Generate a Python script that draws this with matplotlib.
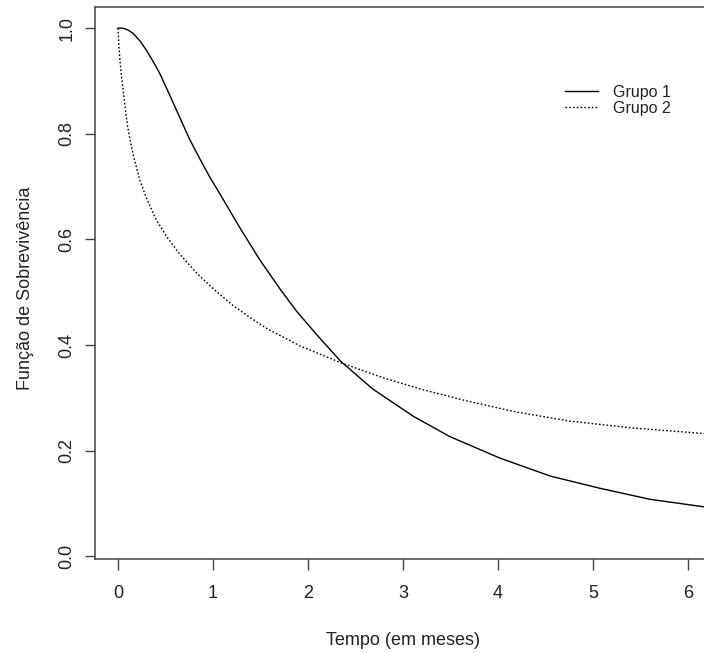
import numpy as np
import matplotlib
matplotlib.use("Agg")
import matplotlib.pyplot as plt

plt.rcParams['font.family'] = ['Liberation Sans', 'DejaVu Sans']

# Curvas de sobrevivência
tempo_g1 = [0.0, 0.05, 0.1, 0.16, 0.23, 0.3, 0.37, 0.44, 0.54, 0.65, 0.75, 0.86,
            0.96, 1.07, 1.28, 1.49, 1.71, 1.88, 2.1, 2.34, 2.68, 3.11, 3.49, 4.02,
            4.55, 5.07, 5.6, 6.2]
surv_g1 = [1.0, 1.0, 0.997, 0.99, 0.976, 0.958, 0.937, 0.914, 0.875, 0.831, 0.791, 0.753,
           0.72, 0.687, 0.623, 0.562, 0.505, 0.464, 0.418, 0.37, 0.317, 0.265, 0.227, 0.186,
           0.152, 0.129, 0.108, 0.093]

tempo_g2 = [0.0, 0.01, 0.02, 0.035, 0.05, 0.075, 0.1, 0.13, 0.16, 0.23, 0.3, 0.4,
            0.51, 0.65, 0.83, 1.0, 1.21, 1.4, 1.57, 1.92, 2.34, 2.79, 3.2, 3.7,
            4.2, 4.76, 5.42, 6.2]
surv_g2 = [1.0, 0.965, 0.94, 0.912, 0.89, 0.85, 0.815, 0.786, 0.76, 0.712, 0.678, 0.638,
           0.606, 0.572, 0.536, 0.507, 0.475, 0.451, 0.431, 0.398, 0.367, 0.338, 0.316,
           0.293, 0.273, 0.256, 0.243, 0.232]

grupos = ['Grupo 1', 'Grupo 2']
x_ticks = [0, 1, 2, 3, 4, 5, 6]
y_ticks = [0.0, 0.2, 0.4, 0.6, 0.8, 1.0]

W, H = 704, 653
fig = plt.figure(figsize=(W / 100, H / 100), dpi=100)
# eixo propositalmente passa da borda direita (como no original recortado)
ax = fig.add_axes([95 / W, (H - 559) / H, 616 / W, 552 / H])

ax.plot(tempo_g1, surv_g1, color='black', lw=1.0, label=grupos[0])
ax.plot(tempo_g2, surv_g2, color='black', lw=1.0, linestyle=(0, (1.2, 1.5)), label=grupos[1])

ax.set_xlim(-0.242, 6.242)
ax.set_ylim(-0.005, 1.04)

cinza = '#444444'
for s in ax.spines.values():
    s.set_color(cinza)
    s.set_linewidth(1.1)

ax.set_xticks(x_ticks)
ax.set_xticklabels([str(v) for v in x_ticks])
ax.set_yticks(y_ticks)
ax.set_yticklabels([f'{v:.1f}' for v in y_ticks], rotation=90, va='center', ha='right')
ax.tick_params(axis='x', length=8, width=1.0, color=cinza, pad=11,
               labelsize=13, labelcolor='#222222')
ax.tick_params(axis='y', length=7.5, width=1.0, color=cinza, pad=6.5,
               labelsize=13, labelcolor='#222222')

ax.set_xlabel('Tempo (em meses)', fontsize=13, color='#222222', va='baseline')
ax.xaxis.set_label_coords(0.5, (559 - 645) / 552)
ax.set_ylabel('Função de Sobrevivência', fontsize=13, color='#222222',
              va='center', rotation_mode='anchor')
ax.yaxis.set_label_coords((26 - 95) / 616, (559 - 288) / 552)

ax.legend(loc='upper left', bbox_to_anchor=(565 / W, (H - 85) / H),
          bbox_transform=fig.transFigure, frameon=False, fontsize=11.5,
          borderpad=0, borderaxespad=0, handlelength=2.05, handletextpad=0.95,
          labelspacing=0.06, labelcolor='#222222')

fig.savefig('out.png', dpi=100)
